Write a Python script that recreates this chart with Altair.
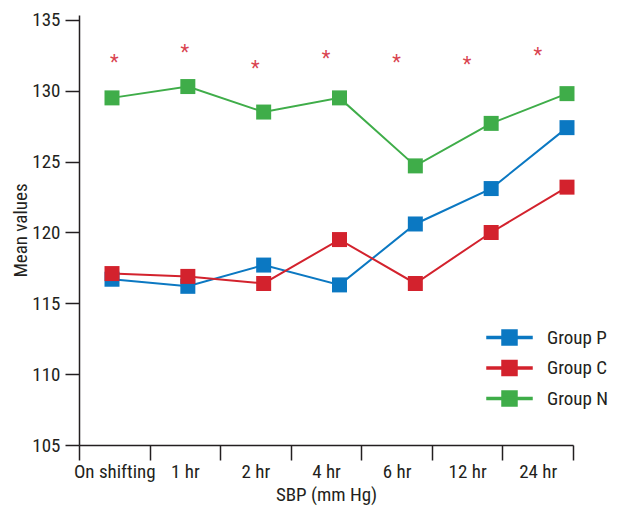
import altair as alt
import pandas as pd

times = ["On shifting", "1 hr", "2 hr", "4 hr", "6 hr", "12 hr", "24 hr"]
groups = ["Group P", "Group C", "Group N"]
group_p = [116.7, 116.2, 117.7, 116.3, 120.6, 123.1, 127.4]
group_c = [117.1, 116.9, 116.4, 119.5, 116.4, 120.0, 123.2]
group_n = [129.5, 130.3, 128.5, 129.5, 124.7, 127.7, 129.8]
star_y = [132.3, 133.0, 131.9, 132.6, 132.3, 132.2, 132.8]
colors = ["#0b78c2", "#d3222d", "#3fad49"]

FONT = "'Liberation Sans Narrow', 'Roboto Condensed', Roboto, sans-serif"

rows = []
for g, vals in zip(groups, [group_p, group_c, group_n]):
    for t, v in zip(times, vals):
        rows.append({"time": t, "group": g, "value": v, "order": groups.index(g)})
df = pd.DataFrame(rows)
stars = pd.DataFrame({"time": times, "y": star_y, "s": ["*"] * len(times)})

ydom = [105, 135.35]
yscale = alt.Scale(domain=ydom, nice=False, zero=False)
pscale = alt.Scale(type="point", domain=times, range=[33, 488], padding=0)
cscale = alt.Scale(domain=groups, range=colors)
leg = alt.Legend(title=None, orient="none", legendX=421, legendY=313,
                 symbolType="M-3,-0.14H3V0.14H-3Z M-1,-1H1V1H-1Z")

line = alt.Chart(df).mark_line(strokeWidth=2).encode(
    x=alt.X("time:N", scale=pscale, axis=None),
    y=alt.Y("value:Q", scale=yscale),
    color=alt.Color("group:N", scale=cscale, legend=leg),
    detail="group:N",
)

pts = alt.Chart(df).mark_point(shape="square", filled=True, size=225, opacity=1).encode(
    x=alt.X("time:N", scale=pscale, axis=None),
    y=alt.Y("value:Q", scale=yscale),
    color=alt.Color("group:N", scale=cscale, legend=leg),
    order="order:Q",
)

star = alt.Chart(stars).mark_text(color="#d9434f", fontSize=20, baseline="middle", dy=5, font=FONT).encode(
    x=alt.X("time:N", scale=alt.Scale(type="band", domain=times, paddingInner=0, paddingOuter=0),
            sort=times,
            axis=alt.Axis(title="SBP (mm Hg)", labelAngle=0, tickBand="extent", tickSize=15,
                          labelPadding=2, titlePadding=4)),
    y=alt.Y("y:Q", scale=yscale,
            axis=alt.Axis(title="Mean values", values=[105, 110, 115, 120, 125, 130, 135],
                          tickSize=14, labelPadding=5, titlePadding=1, grid=False)),
    text="s:N",
)

chart = alt.layer(star, line, pts).resolve_scale(x="independent").properties(
    width=494, height=430,
    autosize=alt.AutoSizeParams(type="none"),
    padding={"left": 71, "top": 7, "right": 42, "bottom": 68},
).configure_view(stroke=None).configure_axis(
    domainColor="#231f20", tickColor="#231f20", labelColor="#231f20", titleColor="#231f20",
    labelFont=FONT, titleFont=FONT, labelFontSize=19, titleFontSize=19,
    titleFontWeight="normal", domainWidth=1.5, tickWidth=1.5, grid=False,
).configure_legend(
    labelFont=FONT, labelFontSize=19, labelColor="#231f20",
    symbolSize=225, symbolOpacity=1, rowPadding=9.5, labelOffset=28,
)

chart.save("out.html", embed_options={"renderer": "svg", "actions": False})
